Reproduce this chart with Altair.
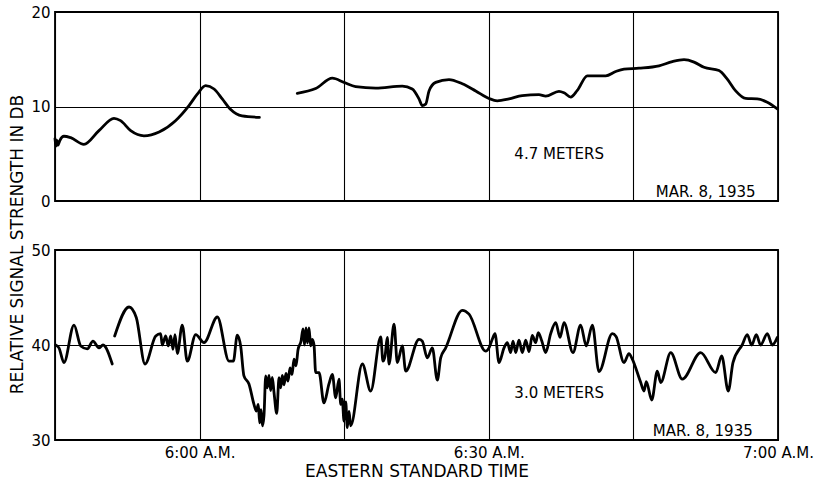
import altair as alt
import pandas as pd

FONT = "DejaVu Sans"

# Time is minutes after 5:45 A.M.; signal strength in db.
# 4.7-meter record (two separate traces)
top_t1 = [0.0, 0.1, 0.2, 0.3, 0.5, 0.93, 1.63, 3.0, 4.56, 6.12, 6.8, 7.85, 9.23, 10.8,
          12.5, 13.9, 14.76, 15.63, 16.5, 17.35, 18.2, 19.4, 21.2]
top_v1 = [6.6, 5.8, 6.4, 5.9, 6.4, 6.85, 6.7, 6.0, 7.45, 8.75, 8.5, 7.45, 6.9, 7.3,
          8.5, 10.1, 11.3, 12.2, 11.85, 10.8, 9.7, 9.0, 8.85]
top_t2 = [25.13, 27.04, 28.77, 29.98, 31.19, 33.27, 36.03, 37.06, 37.76, 38.1, 38.45, 38.8,
          39.49, 40.87, 42.25, 43.64, 45.02, 45.88, 47.1, 48.47, 50.2, 50.9, 52.28, 52.8,
          53.5, 54.18, 55.22, 56.09, 57.13, 58.16, 59.03, 60.58, 62.66, 64.04, 65.25, 66.29,
          67.32, 68.88, 69.74, 70.61, 71.65, 72.85, 73.89, 74.93]
top_v2 = [11.4, 11.9, 13.0, 12.55, 12.1, 11.95, 12.15, 11.85, 10.8, 10.1, 10.25, 11.65,
          12.55, 12.85, 12.4, 11.65, 10.85, 10.6, 10.8, 11.15, 11.25, 11.1, 11.6, 11.45,
          11.0, 11.7, 13.25, 13.25, 13.25, 13.7, 13.95, 14.05, 14.3, 14.75, 14.95, 14.7,
          14.15, 13.8, 12.9, 11.65, 10.85, 10.8, 10.45, 9.75]

# 3.0-meter record (two separate traces)
bot_t1 = [0.07, 0.41, 0.93, 1.97, 2.67, 3.35, 3.94, 4.56, 4.98, 5.94]
bot_v1 = [40.0, 39.7, 38.15, 42.1, 39.9, 39.6, 40.4, 39.7, 40.0, 38.0]
bot_t2 = [6.19, 7.68, 8.43, 9.34, 10.45, 10.96, 11.13, 11.48, 11.75, 12.0, 12.24, 12.45,
          12.69, 13.2, 13.72, 14.6, 15.46, 16.84, 18.05, 18.5, 18.91, 19.26, 19.6, 20.12,
          20.64, 20.88, 21.09, 21.23, 21.37, 21.52, 21.68, 21.86, 22.02, 22.2, 22.37, 22.54,
          22.72, 23.0, 23.24, 23.41, 23.58, 23.76, 23.96, 24.17, 24.38, 24.59, 24.79, 25.0,
          25.21, 25.52, 25.73, 25.88, 26.04, 26.19, 26.35, 26.52, 26.69, 26.87, 27.04, 27.39,
          27.9, 28.42, 28.77, 29.12, 29.46, 29.64, 29.8, 29.98, 30.16, 30.32, 30.5, 30.67,
          31.88, 32.75, 33.79, 34.02, 34.23, 34.47, 34.65, 35.17, 35.51, 36.03, 36.38, 37.76,
          38.1, 38.62, 39.14, 39.66, 40.01, 40.53, 42.25, 42.95, 44.68, 45.02, 45.36, 45.64,
          46.06, 46.58, 46.92, 47.27, 47.51, 47.79, 48.13, 48.48, 48.83, 49.17, 49.51, 49.86,
          50.13, 50.49, 50.9, 51.42, 51.94, 52.39, 52.8, 53.73, 54.53, 55.11, 55.74, 56.43,
          57.81, 58.2, 59.03, 59.54, 59.85, 60.76, 61.1, 61.34, 61.9, 62.48, 62.83, 63.87,
          65.07, 66.98, 68.54, 69.16, 69.84, 70.33, 71.3, 71.81, 72.27, 72.75, 73.2, 73.89,
          74.41, 74.93]
bot_v2 = [40.95, 44.0, 42.9, 38.0, 40.95, 41.2, 40.0, 40.95, 39.9, 40.95, 39.55, 41.1,
          39.1, 42.1, 38.3, 41.1, 40.25, 42.95, 38.3, 38.3, 41.05, 39.9, 36.75, 35.9,
          33.75, 33.05, 33.75, 31.8, 33.2, 31.5, 32.6, 36.75, 35.5, 36.8, 35.2, 36.6,
          35.0, 32.8, 36.55, 35.5, 36.8, 35.8, 37.0, 36.2, 37.6, 36.9, 38.5, 37.8,
          39.5, 40.4, 41.7, 40.0, 41.8, 40.2, 41.8, 39.9, 40.6, 40.0, 37.1, 37.1,
          33.9, 35.9, 36.9, 34.45, 36.4, 33.75, 34.3, 32.0, 34.0, 31.3, 33.0, 31.5,
          38.0, 35.15, 40.85, 38.3, 38.8, 40.8, 38.0, 42.2, 38.15, 39.9, 37.25, 40.6,
          40.4, 38.65, 39.7, 36.3, 38.65, 39.7, 43.65, 43.25, 39.35, 39.7, 40.6, 41.2,
          38.15, 39.7, 40.25, 39.2, 40.4, 39.2, 40.5, 39.2, 40.5, 39.3, 41.0, 40.25,
          41.3, 40.45, 39.2, 41.2, 42.35, 40.8, 42.35, 39.2, 42.1, 39.9, 42.1, 37.2,
          41.2, 40.9, 38.15, 39.1, 38.6, 36.05, 35.15, 36.15, 34.2, 37.25, 36.05, 39.2,
          36.4, 39.2, 37.1, 38.85, 35.15, 38.15, 40.05, 41.1, 40.0, 41.1, 40.0, 41.2,
          40.0, 40.8]

# Axis ticks (minutes after 5:45) and their labels
grid_minutes = [0, 15, 30, 45, 60, 75]
label_minutes = [15, 45, 75]
label_texts = ["6:00 A.M.", "6:30 A.M.", "7:00 A.M."]

# Panel notes: (text, minute, db)
top_notes = [("4.7 METERS", 52.3, 5.0), ("MAR. 8, 1935", 67.5, 1.0)]
bot_notes = [("3.0 METERS", 52.3, 34.9), ("MAR. 8, 1935", 67.2, 30.9)]


def frame(ts, vs):
    rows = []
    for seg, (t, v) in enumerate(zip(ts, vs)):
        rows += [{"t": a, "v": b, "seg": seg} for a, b in zip(t, v)]
    return pd.DataFrame(rows)


label_expr = " : ".join(
    f"datum.value == {m} ? '{s}'" for m, s in zip(label_minutes, label_texts)
) + " : ''"


def panel(df, notes, ydom, yvals, show_x, height):
    xaxis = alt.Axis(
        values=grid_minutes, labelExpr=label_expr, labels=show_x, ticks=False,
        domain=False, grid=True, gridColor="black", gridWidth=1.1,
        labelFlush=False, labelOverlap=False, labelBound=False,
        labelFontSize=15, labelPadding=5,
        title="EASTERN STANDARD TIME" if show_x else None,
        titleFontSize=17, titleFontWeight="normal", titlePadding=3,
    )
    if show_x:
        yaxis = alt.Axis(values=yvals, ticks=False, domain=False, grid=True,
                         gridColor="black", gridWidth=1.1, labelFontSize=15,
                         labelPadding=5, title=None)
    else:
        yaxis = alt.Axis(values=yvals, ticks=False, domain=False, grid=True,
                         gridColor="black", gridWidth=1.1, labelFontSize=15,
                         labelPadding=5,
                         title="RELATIVE SIGNAL STRENGTH IN DB",
                         titleFontSize=17, titleFontWeight="normal",
                         titleX=-38, titleY=232, titleBaseline="middle",
                         titleAlign="center", titleAngle=270)
    x = alt.X("t:Q", scale=alt.Scale(domain=[0, 75], nice=False, zero=False), axis=xaxis)
    y = alt.Y("v:Q", scale=alt.Scale(domain=ydom, nice=False, zero=False), axis=yaxis)
    lines = alt.Chart(df).mark_line(
        color="black", strokeWidth=2.8, interpolate="monotone",
        strokeJoin="round", strokeCap="round",
    ).encode(x=x, y=y, detail="seg:N")
    ndf = pd.DataFrame([{"txt": s, "t": a, "v": b} for s, a, b in notes])
    text = alt.Chart(ndf).mark_text(
        font=FONT, fontSize=15, color="black", align="center", baseline="middle"
    ).encode(x="t:Q", y="v:Q", text="txt:N")
    return alt.layer(lines, text).properties(width=723, height=height)


top = panel(frame([top_t1, top_t2], [top_v1, top_v2]), top_notes, [0, 20], [0, 10, 20], False, 189)
bottom = panel(frame([bot_t1, bot_t2], [bot_v1, bot_v2]), bot_notes, [30, 50], [30, 40, 50], True, 190)

chart = alt.vconcat(top, bottom, spacing=49, bounds="flush").properties(
    padding={"left": 7, "top": 4, "right": 10, "bottom": 2},
).configure(font=FONT).configure_view(
    stroke="black", strokeWidth=1.8
).configure_axis(
    labelFont=FONT, titleFont=FONT, labelColor="black", titleColor="black"
)

chart.save("out.html", embed_options={"renderer": "svg", "actions": False})
